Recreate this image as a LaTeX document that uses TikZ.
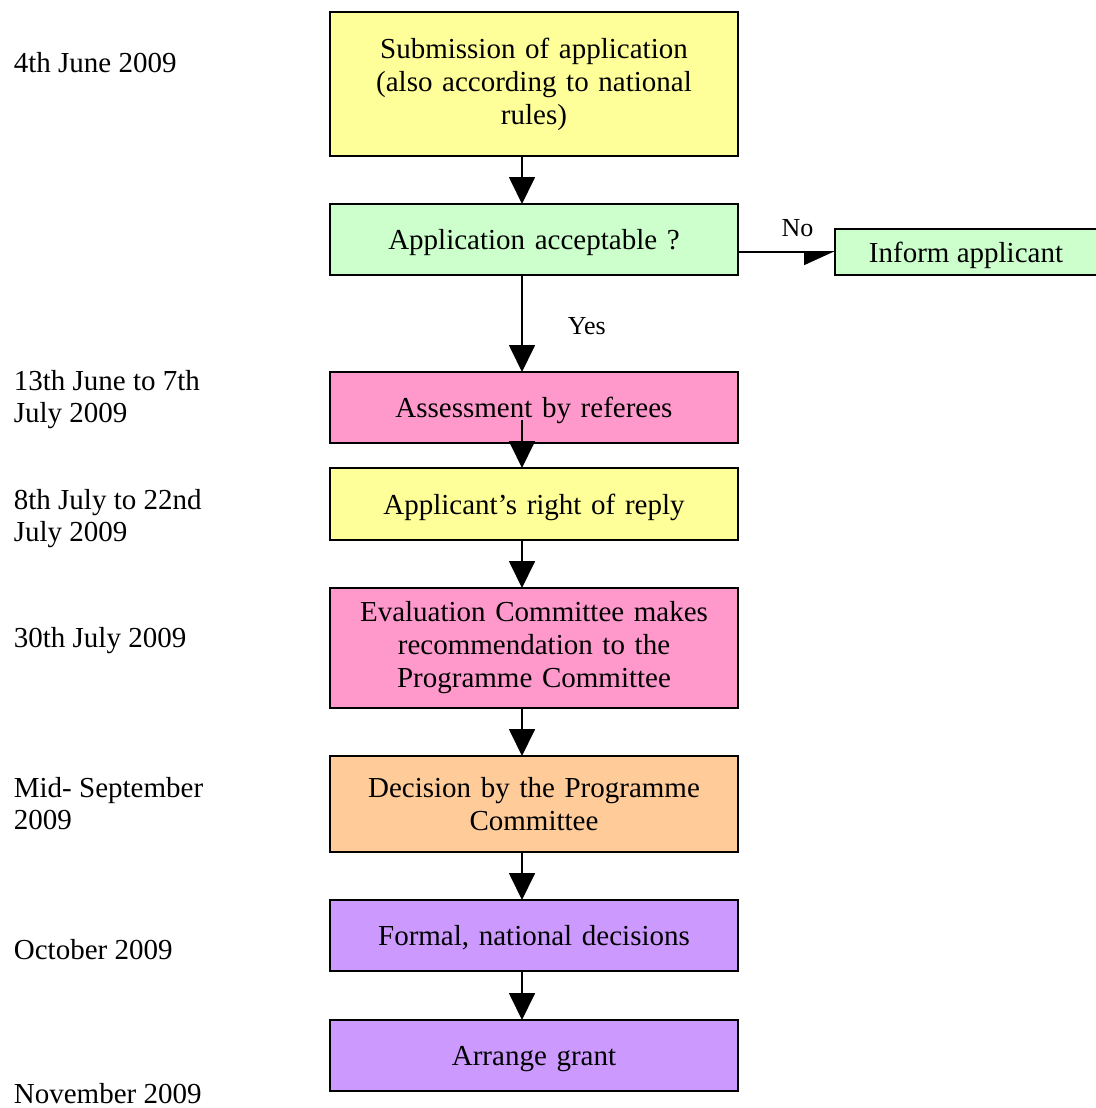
\documentclass[tikz,border=0pt]{standalone}
\usepackage{fontspec}
\setmainfont{Liberation Serif}
\usetikzlibrary{arrows.meta}
\usetikzlibrary{positioning}
\definecolor{boxyellow}{HTML}{FFFF99}
\definecolor{boxgreen}{HTML}{CCFFCC}
\definecolor{boxpink}{HTML}{FF99CC}
\definecolor{boxorange}{HTML}{FFCC99}
\definecolor{boxpurple}{HTML}{CC99FF}

\begin{document}
\begin{tikzpicture}[x=1pt,y=-1pt,->,>={Triangle[length=27pt,width=26pt]},
  line width=1.8pt,node distance=48pt,
  main node/.style={draw,line width=1.8pt,minimum width=408pt,text width=400pt,
    align=center,inner sep=0pt,outer sep=0pt,font=\fontsize{29}{33}\selectfont},
  one line/.style={text depth=0pt},
  date node/.style={anchor=base west,inner sep=0pt,align=left,
    font=\fontsize{29}{32}\selectfont},
  label node/.style={inner sep=0pt,font=\fontsize{26}{30}\selectfont}]

  \useasboundingbox (0,0) rectangle (1095,1108);

  \node[main node,fill=boxyellow,minimum height=144pt] (submit) at (534,84)
    {Submission of application\\(also according to national\\rules)};
  \node[main node,one line,fill=boxgreen,minimum height=71pt] (accept) [below=of submit]
    {Application acceptable ?};
  \node[main node,one line,fill=boxgreen,minimum width=262pt,text width=,minimum height=46pt]
    (inform) [right=97pt of accept.south east,anchor=south west]
    {Inform applicant};
  \node[main node,one line,fill=boxpink,minimum height=71pt] (referee) [below=97pt of accept]
    {Assessment by referees};
  \node[main node,one line,fill=boxyellow,minimum height=72pt] (reply) [below=25pt of referee]
    {Applicant’s right of reply};
  \node[main node,fill=boxpink,minimum height=120pt] (evaluate) [below=of reply]
    {Evaluation Committee makes\\recommendation to the\\Programme Committee};
  \node[main node,fill=boxorange,minimum height=96pt] (decide) [below=of evaluate]
    {Decision by the Programme\\Committee};
  \node[main node,one line,fill=boxpurple,minimum height=71pt] (formal) [below=of decide]
    {Formal, national decisions};
  \node[main node,one line,fill=boxpurple,minimum height=71pt] (grant) [below=49pt of formal]
    {Arrange grant};

  % dates
  \node[date node] (jun4) at (13,72) {4th June 2009};
  \node[date node] (jun13) at (13,422) {13th June to 7th\\July 2009};
  \node[date node] (jul8) at (13,541) {8th July to 22nd\\July 2009};
  \node[date node] (jul30) at (13,647) {30th July 2009};
  \node[date node] (sept) at (13,829) {Mid- September\\2009};
  \node[date node] (oct) at (13,959) {October 2009};
  \node[date node] (nov) at (13,1103) {November 2009};

  \draw ([xshift=-12pt]submit.south) -- ([xshift=-12pt]accept.north);
  \draw ([xshift=-12pt]accept.south) -- node[label node,right=45pt,yshift=-3pt] {Yes}
    ([xshift=-12pt]referee.north);
  \draw ([xshift=-12pt,yshift=-12pt]referee.center) -- ([xshift=-12pt]reply.north);
  \draw ([xshift=-12pt]reply.south) -- ([xshift=-12pt]evaluate.north);
  \draw ([xshift=-12pt]evaluate.south) -- ([xshift=-12pt]decide.north);
  \draw ([xshift=-12pt]decide.south) -- ([xshift=-12pt]formal.north);
  \draw ([xshift=-12pt]formal.south) -- ([xshift=-12pt]grant.north);
  \draw[-{Triangle[length=29pt,width=26pt,right]}] (accept.east |- inform.west)
    -- node[label node,above=14pt,xshift=11pt] {No} (inform.west);
\end{tikzpicture}
\end{document}
